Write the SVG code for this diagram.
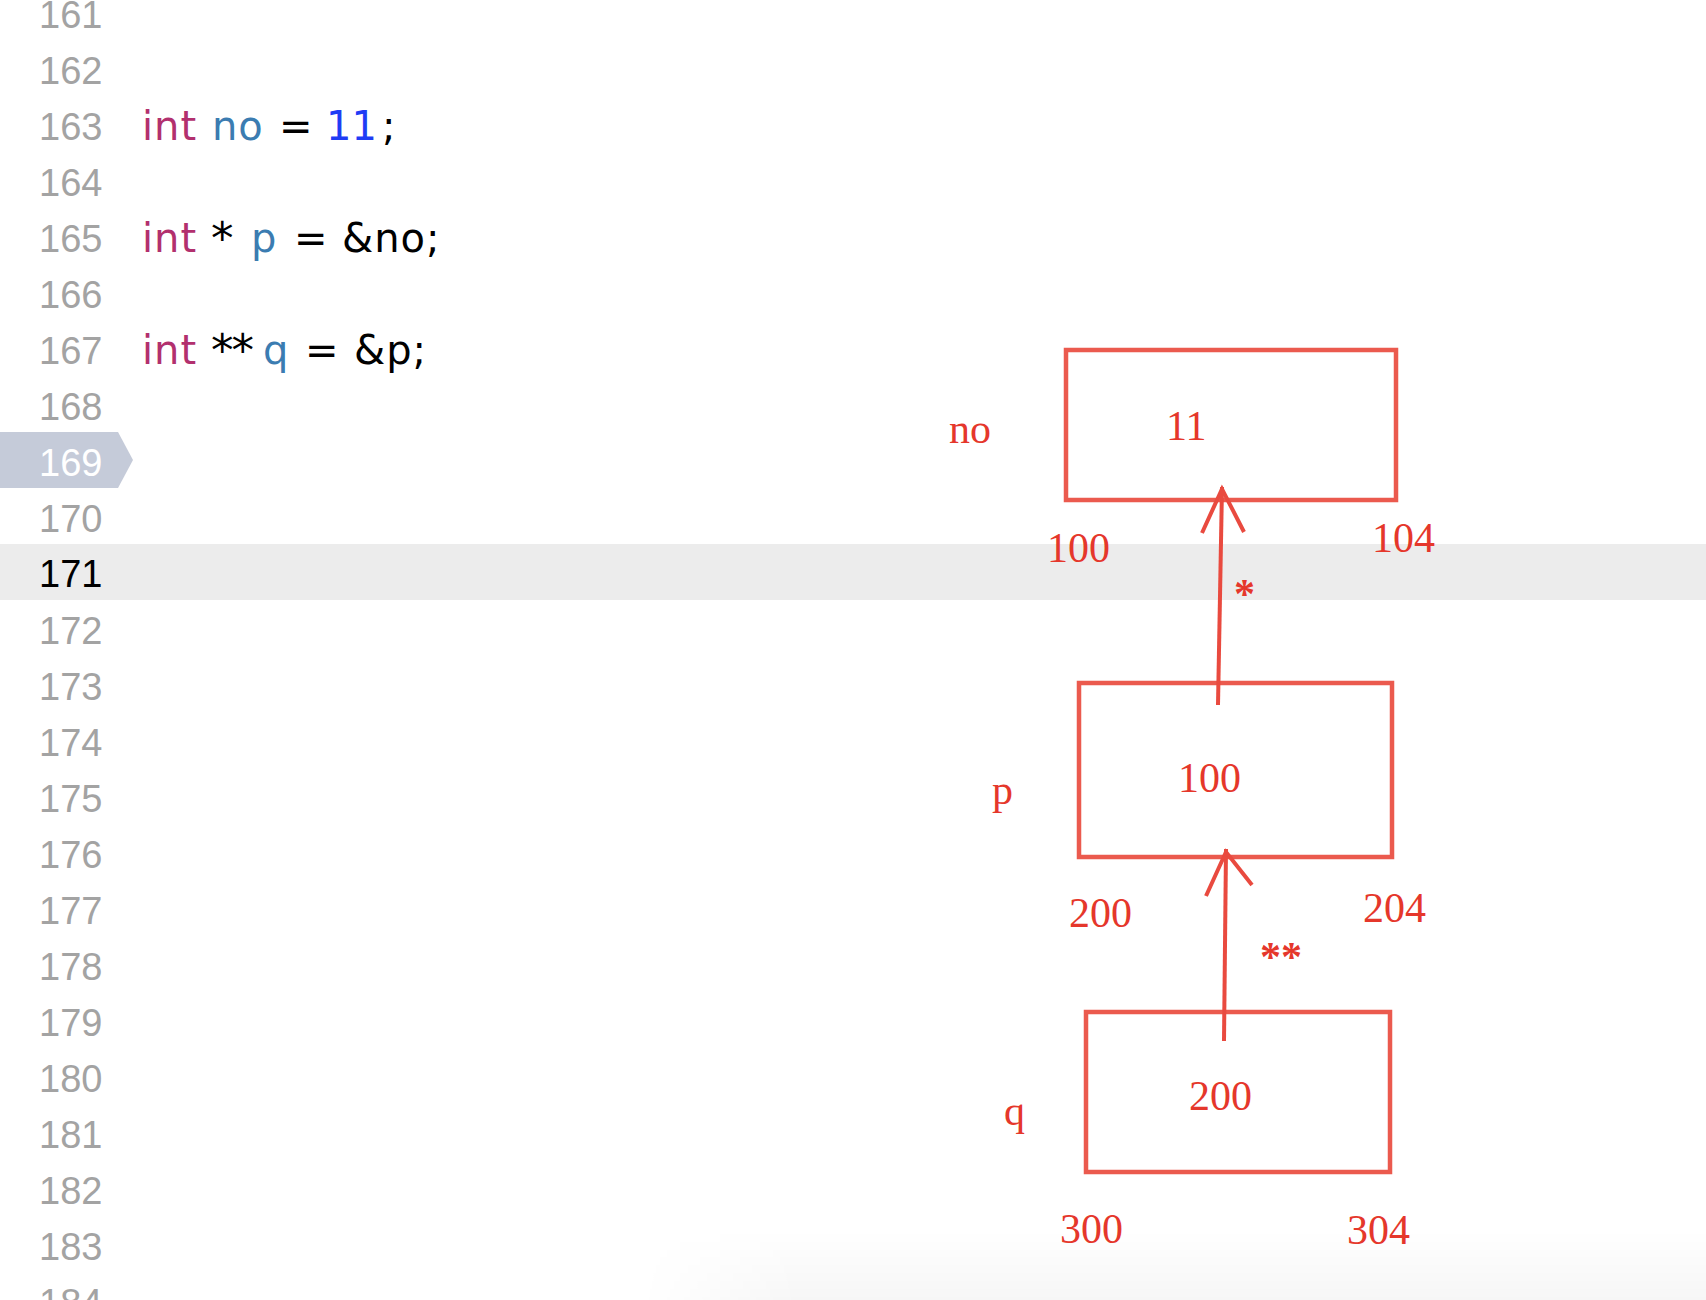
<svg xmlns="http://www.w3.org/2000/svg" width="1706" height="1300" viewBox="0 0 1706 1300">
<defs>
<style>
.ln{font-family:"Liberation Sans",Arial,sans-serif;font-size:38px;fill:#a3a3a3}
.code{font-family:"DejaVu Sans","Liberation Sans",sans-serif;font-size:40px;fill:#000}
.kw{fill:#b2306e}
.id{fill:#3b7cb1}
.num{fill:#1f3cf5}
.box{fill:none;stroke:#eb5a4e;stroke-width:4.5}
.lbl{font-family:"Liberation Serif","Times New Roman",serif;font-size:42px;fill:#e5372b}
.star{font-weight:bold}
.arr{fill:none;stroke:#e94a3f;stroke-width:4;stroke-linecap:butt;stroke-linejoin:miter}
</style>
<linearGradient id="shv" x1="0" y1="0" x2="0" y2="1">
<stop offset="0" stop-color="#000" stop-opacity="0"/>
<stop offset="1" stop-color="#000" stop-opacity="0.035"/>
</linearGradient>
<linearGradient id="shh" x1="0" y1="0" x2="1" y2="0">
<stop offset="0" stop-color="#fff" stop-opacity="0"/>
<stop offset="0.15" stop-color="#fff" stop-opacity="1"/>
<stop offset="1" stop-color="#fff" stop-opacity="1"/>
</linearGradient>
<mask id="shm"><rect x="640" y="1230" width="1066" height="70" fill="url(#shh)"/></mask>
</defs>
<rect x="0" y="0" width="1706" height="1300" fill="#ffffff"/>
<rect x="640" y="1230" width="1066" height="70" fill="url(#shv)" mask="url(#shm)"/>

<g id="editor">
<rect x="0" y="544" width="1706" height="56" fill="#ececec"/>
<polygon points="0,432 118,432 133,460 118,488 0,488" fill="#c5cbd9"/>
<text class="ln" x="39" y="28">161</text>
<text class="ln" x="39" y="84">162</text>
<text class="ln" x="39" y="140">163</text>
<text class="ln" x="39" y="196">164</text>
<text class="ln" x="39" y="252">165</text>
<text class="ln" x="39" y="308">166</text>
<text class="ln" x="39" y="364">167</text>
<text class="ln" x="39" y="420">168</text>
<text class="ln" x="39" y="476" style="fill:#ffffff">169</text>
<text class="ln" x="39" y="532">170</text>
<text class="ln" x="39" y="587" style="fill:#000000">171</text>
<text class="ln" x="39" y="644">172</text>
<text class="ln" x="39" y="700">173</text>
<text class="ln" x="39" y="756">174</text>
<text class="ln" x="39" y="812">175</text>
<text class="ln" x="39" y="868">176</text>
<text class="ln" x="39" y="924">177</text>
<text class="ln" x="39" y="980">178</text>
<text class="ln" x="39" y="1036">179</text>
<text class="ln" x="39" y="1092">180</text>
<text class="ln" x="39" y="1148">181</text>
<text class="ln" x="39" y="1204">182</text>
<text class="ln" x="39" y="1260">183</text>
<text class="ln" x="39" y="1316">184</text>

<text class="code kw" x="142" y="140" letter-spacing="1">int</text>
<text class="code id" x="212" y="140" letter-spacing="1">no</text>
<text class="code" x="279" y="140">=</text>
<text class="code num" x="326" y="140">11</text>
<text class="code" x="382" y="140">;</text>

<text class="code kw" x="142" y="252" letter-spacing="1">int</text>
<text class="code" x="211" y="254" style="font-size:45px">*</text>
<text class="code id" x="251" y="252">p</text>
<text class="code" x="294" y="252">=</text>
<text class="code" x="342" y="252" letter-spacing="1">&amp;no;</text>

<text class="code kw" x="142" y="364" letter-spacing="1">int</text>
<text class="code" x="211" y="366" style="font-size:45px" letter-spacing="-2">**</text>
<text class="code id" x="263" y="364">q</text>
<text class="code" x="305" y="364">=</text>
<text class="code" x="354" y="364" letter-spacing="1">&amp;p;</text>
</g>

<g id="node-no">
<rect class="box" x="1066" y="350" width="330" height="150"/>
<text class="lbl" x="1166" y="440">11</text>
<text class="lbl" x="949" y="443">no</text>
<text class="lbl" x="1047" y="562">100</text>
<text class="lbl" x="1372" y="552">104</text>
</g>

<g id="node-p">
<rect class="box" x="1079" y="683" width="313" height="174"/>
<text class="lbl" x="1178" y="792">100</text>
<text class="lbl" x="992" y="804">p</text>
<text class="lbl" x="1069" y="927">200</text>
<text class="lbl" x="1363" y="922">204</text>
</g>

<g id="node-q">
<rect class="box" x="1086" y="1012" width="304" height="160"/>
<text class="lbl" x="1189" y="1110">200</text>
<text class="lbl" x="1004" y="1125">q</text>
<text class="lbl" x="1060" y="1243">300</text>
<text class="lbl" x="1347" y="1244">304</text>
</g>

<g id="connectors">
<line class="arr" x1="1218" y1="705" x2="1222" y2="487"/>
<polyline class="arr" points="1202,533 1222,489 1244,532"/>
<text class="lbl star" x="1234" y="608">*</text>
<line class="arr" x1="1224" y1="1041" x2="1226" y2="849"/>
<polyline class="arr" points="1206,896 1226,852 1252,885"/>
<text class="lbl star" x="1260" y="971">**</text>
</g>
</svg>
